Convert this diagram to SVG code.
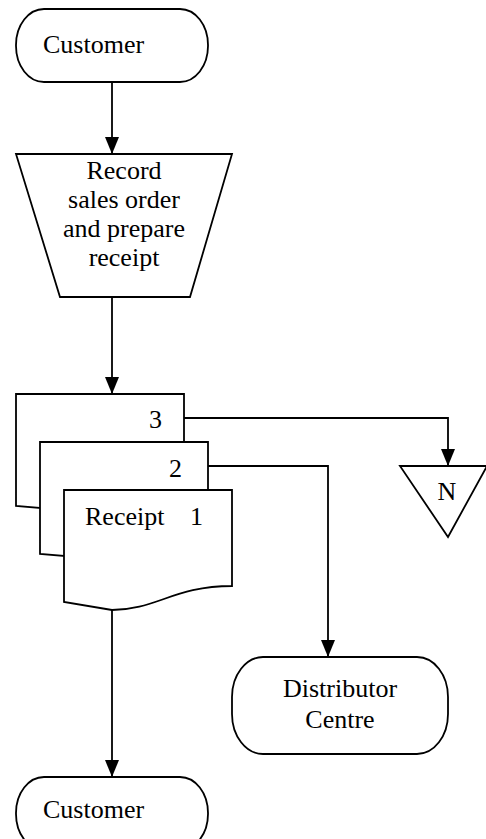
<svg xmlns="http://www.w3.org/2000/svg" width="486" height="839" viewBox="0 0 486 839">
  <style>
    .shape { fill: #ffffff; stroke: #000000; stroke-width: 1.8; stroke-linejoin: miter; }
    .link { fill: none; stroke: #000000; stroke-width: 1.8; }
    .label { font-family: "Liberation Serif", "Times New Roman", serif; font-size: 26px; fill: #000000; }
    .mid { text-anchor: middle; }
  </style>
  <defs>
    <marker id="tip" markerUnits="userSpaceOnUse" markerWidth="17" markerHeight="14" viewBox="0 0 17 14" refX="17" refY="7" orient="auto">
      <path d="M0,0 L17,7 L0,14 Z" fill="#000000"/>
    </marker>
  </defs>

  <rect width="486" height="839" fill="#ffffff"/>

  <g id="connectors">
    <path class="link" d="M112,82 V154" marker-end="url(#tip)"/>
    <path class="link" d="M112,297 V394" marker-end="url(#tip)"/>
    <path class="link" d="M184,418 H448 V466" marker-end="url(#tip)"/>
    <path class="link" d="M208,466 H328 V657" marker-end="url(#tip)"/>
    <path class="link" d="M112,610 V777" marker-end="url(#tip)"/>
  </g>

  <g id="customer-start">
    <rect class="shape" x="16" y="9" width="192" height="73" rx="28" ry="36"/>
    <text class="label" x="43" y="53">Customer</text>
  </g>

  <g id="record-order">
    <polygon class="shape" points="16,154 232,154 190,297 60,297"/>
    <text class="label mid" x="124" y="179">Record</text>
    <text class="label mid" x="124" y="208">sales order</text>
    <text class="label mid" x="124" y="237">and prepare</text>
    <text class="label mid" x="124" y="266">receipt</text>
  </g>

  <g id="receipt-copy-3">
    <path class="shape" d="M16,394 H184 V490 C154,490 134,508 112,514 L16,506 Z"/>
    <text class="label" x="149" y="428">3</text>
  </g>

  <g id="receipt-copy-2">
    <path class="shape" d="M40,442 H208 V538 C178,538 158,556 136,562 L40,554 Z"/>
    <text class="label" x="169" y="477">2</text>
  </g>

  <g id="receipt-copy-1">
    <path class="shape" d="M64,490 H232 V586 C174,586 156,610 112,610 L64,602 Z"/>
    <text class="label" x="85" y="525">Receipt</text>
    <text class="label" x="190" y="525">1</text>
  </g>

  <g id="file-n">
    <polygon class="shape" points="400,466 487,466 448,537"/>
    <text class="label mid" x="447" y="500">N</text>
  </g>

  <g id="distributor-centre">
    <rect class="shape" x="232" y="657" width="216" height="97" rx="31" ry="40"/>
    <text class="label mid" x="340" y="697">Distributor</text>
    <text class="label mid" x="340" y="728">Centre</text>
  </g>

  <g id="customer-end">
    <rect class="shape" x="16" y="777" width="192" height="73" rx="28" ry="36"/>
    <text class="label" x="43" y="818">Customer</text>
  </g>
</svg>
